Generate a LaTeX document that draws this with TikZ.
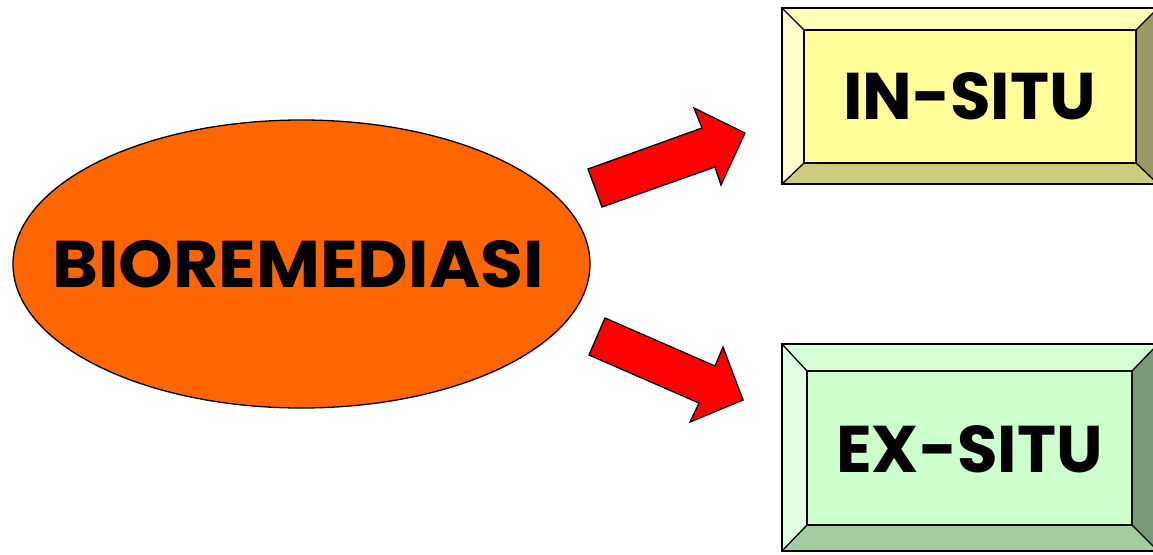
\documentclass[tikz,border=0pt]{standalone}
\usepackage{fontspec}
\setmainfont{Poppins}[BoldFont={Poppins Bold}]
\usetikzlibrary{shapes.geometric}
\definecolor{orangeF}{HTML}{FF6600}
\definecolor{yIn}{HTML}{FFFF99}
\definecolor{yTop}{HTML}{FFFFB8}
\definecolor{yLeft}{HTML}{FFFFCC}
\definecolor{yBot}{HTML}{CCCC7A}
\definecolor{yRight}{HTML}{999966}
\definecolor{gIn}{HTML}{CCFFCC}
\definecolor{gTop}{HTML}{D6FFD6}
\definecolor{gLeft}{HTML}{E0FFE0}
\definecolor{gBot}{HTML}{A3CCA3}
\definecolor{gRight}{HTML}{7A997A}
\tikzset{
  edge/.style={draw=black, line width=1.3pt, line join=miter},
  blockarrow/.style={fill=red, draw=black, line width=1.3pt, line join=miter},
  lbl/.style={font=\bfseries\fontsize{66}{70}\selectfont, text=black, inner sep=0pt}
}
\begin{document}
\begin{tikzpicture}[x=1pt,y=-1pt]
\useasboundingbox (0,0) rectangle (1153,554);
\clip (0,0) rectangle (1153,554);
% ellipse
\node[ellipse, draw=black, line width=1.3pt, fill=orangeF, minimum width=577pt, minimum height=288pt, inner sep=0pt] (bio) at (301.5,264) {};
\node[lbl, anchor=base, xscale=1.055] (biotext) at (298,287) {BIOREMEDIASI};
% top box
\coordinate (a1) at (782,8); \coordinate (a2) at (1158,8);
\coordinate (a3) at (1158,184); \coordinate (a4) at (782,184);
\coordinate (b1) at (804,30); \coordinate (b2) at (1136,30);
\coordinate (b3) at (1136,163); \coordinate (b4) at (804,163);
\fill[yIn] (b1) -- (b2) -- (b3) -- (b4) -- cycle;
\fill[yTop] (a1) -- (a2) -- (b2) -- (b1) -- cycle;
\fill[yLeft] (a1) -- (b1) -- (b4) -- (a4) -- cycle;
\fill[yBot] (a4) -- (b4) -- (b3) -- (a3) -- cycle;
\fill[yRight] (a2) -- (a3) -- (b3) -- (b2) -- cycle;
\draw[edge] (a1) -- (a2) -- (a3) -- (a4) -- cycle;
\draw[edge] (b1) -- (b2) -- (b3) -- (b4) -- cycle;
\draw[edge] (a1) -- (b1) (a2) -- (b2) (a3) -- (b3) (a4) -- (b4);
\node[lbl, anchor=base] (insitu) at (969.5,119) {IN-SITU};
% bottom box
\coordinate (c1) at (782,344); \coordinate (c2) at (1158,344);
\coordinate (c3) at (1158,551); \coordinate (c4) at (782,551);
\coordinate (d1) at (807,371); \coordinate (d2) at (1132,371);
\coordinate (d3) at (1132,525); \coordinate (d4) at (807,525);
\fill[gIn] (d1) -- (d2) -- (d3) -- (d4) -- cycle;
\fill[gTop] (c1) -- (c2) -- (d2) -- (d1) -- cycle;
\fill[gLeft] (c1) -- (d1) -- (d4) -- (c4) -- cycle;
\fill[gBot] (c4) -- (d4) -- (d3) -- (c3) -- cycle;
\fill[gRight] (c2) -- (c3) -- (d3) -- (d2) -- cycle;
\draw[edge] (c1) -- (c2) -- (c3) -- (c4) -- cycle;
\draw[edge] (d1) -- (d2) -- (d3) -- (d4) -- cycle;
\draw[edge] (c1) -- (d1) (c2) -- (d2) (c3) -- (d3) (c4) -- (d4);
\node[lbl, anchor=base] (exsitu) at (969.5,472) {EX-SITU};
% arrows
\draw[blockarrow] (588,169) -- (702,128) -- (694,108) -- (745,133) -- (721,185) -- (715,167) -- (602,207) -- cycle;
\draw[blockarrow] (605,318) -- (715,366) -- (723,347) -- (743,400) -- (690,422) -- (699,403) -- (589,355) -- cycle;
\end{tikzpicture}
\end{document}
